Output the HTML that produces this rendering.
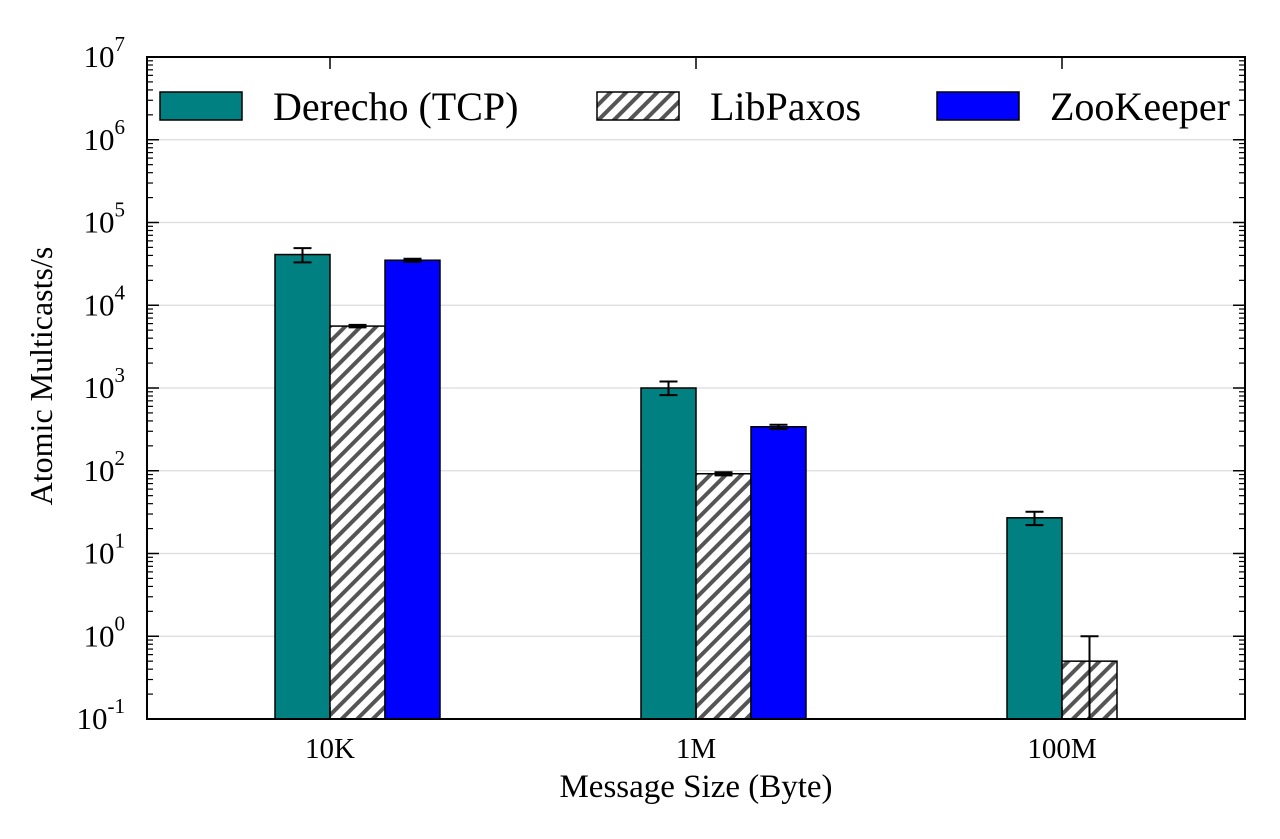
<!DOCTYPE html>
<html><head><meta charset="utf-8"><style>
body{margin:0;background:#fff;}
svg{display:block;font-family:"Liberation Serif",serif;}
</style></head><body>
<svg id="chart" width="1280" height="839" xmlns="http://www.w3.org/2000/svg">
<defs>
<pattern id="hatch" patternUnits="userSpaceOnUse" width="11" height="11" patternTransform="rotate(45)">
<rect width="11" height="11" fill="#fff"/>
<rect x="0" y="0" width="4" height="11" fill="#555"/>
</pattern>
</defs>
<g id="grid"></g>
<g id="bars"></g>
<g id="axes"></g>
</svg>
<script>
const categories = ["10K", "1M", "100M"];
const seriesNames = ["Derecho (TCP)", "LibPaxos", "ZooKeeper"];
const derecho = [41000, 1000, 27];
const derechoErrLo = [33000, 820, 22];
const derechoErrHi = [49000, 1200, 32];
const libpaxos = [5600, 92, 0.5];
const libpaxosErrLo = [5400, 88, 0.1];
const libpaxosErrHi = [5800, 96, 1.0];
const zookeeper = [35000, 340, null];
const zookeeperErrLo = [33500, 320, null];
const zookeeperErrHi = [36500, 360, null];
const yTickExps = [-1,0,1,2,3,4,5,6,7];

const NS="http://www.w3.org/2000/svg";
const L=147,R=1245,T=57,B=719;
const yMin=-1,yMax=7;
function y(v){return B-(Math.log10(v)-yMin)/(yMax-yMin)*(B-T);}
const groupW=(R-L)/categories.length;
function xc(i){return L+groupW*(i+0.5);}
const barW=55;
function mk(tag,attrs,parent){const e=document.createElementNS(NS,tag);for(const k in attrs)e.setAttribute(k,attrs[k]);parent.appendChild(e);return e;}
const grid=document.getElementById('grid'),bars=document.getElementById('bars'),axes=document.getElementById('axes');

yTickExps.forEach(ex=>{
  const yy=y(Math.pow(10,ex));
  if(ex>yMin&&ex<yMax){const g=mk('line',{x1:L,x2:R,y1:yy,y2:yy,stroke:'#dcdcdc','stroke-width':1.2},grid);
  
  }
  mk('line',{x1:L,x2:L+12,y1:yy,y2:yy,stroke:'#000','stroke-width':1.5},axes);
  mk('line',{x1:R,x2:R-12,y1:yy,y2:yy,stroke:'#000','stroke-width':1.5},axes);
  const t=mk('text',{x:L-22,y:yy+10,'text-anchor':'end','font-size':31},axes);
  
  
  t.textContent='10';
  const s=mk('tspan',{dy:-16,'font-size':21},t);s.textContent=String(ex);
  if(ex<yMax){for(let m=2;m<10;m++){const ym=y(m*Math.pow(10,ex));
    mk('line',{x1:L,x2:L+6,y1:ym,y2:ym,stroke:'#000','stroke-width':1.2},axes);
    mk('line',{x1:R,x2:R-6,y1:ym,y2:ym,stroke:'#000','stroke-width':1.2},axes);}}
});

const series=[[derecho,derechoErrLo,derechoErrHi,'#008080'],[libpaxos,libpaxosErrLo,libpaxosErrHi,'url(#hatch)'],[zookeeper,zookeeperErrLo,zookeeperErrHi,'#0000ff']];
categories.forEach((c,i)=>{
  series.forEach((s,j)=>{
    const v=s[0][i]; if(v==null)return;
    const x0=xc(i)-barW+j*barW;
    const r=mk('rect',{x:x0,y:y(v),width:barW,height:B-y(v),fill:s[3],stroke:'#000','stroke-width':1.5},bars);
    
    
    const cx=x0+barW/2,lo=y(s[1][i]),hi=y(s[2][i]);
    mk('line',{x1:cx,x2:cx,y1:Math.min(lo,B),y2:hi,stroke:'#000','stroke-width':2},bars);
    mk('line',{x1:cx-9,x2:cx+9,y1:hi,y2:hi,stroke:'#000','stroke-width':2},bars);
    if(lo<B)mk('line',{x1:cx-9,x2:cx+9,y1:lo,y2:lo,stroke:'#000','stroke-width':2},bars);
  });
  const xx=xc(i);
  mk('line',{x1:xx,x2:xx,y1:B,y2:B-12,stroke:'#000','stroke-width':1.5},axes);
  mk('line',{x1:xx,x2:xx,y1:T,y2:T+12,stroke:'#000','stroke-width':1.5},axes);
  const t=mk('text',{x:xx,y:B+39,'text-anchor':'middle','font-size':29},axes);
  
  
  t.textContent=c;
});
const fr=mk('rect',{x:L,y:T,width:R-L,height:B-T,fill:'none',stroke:'#000','stroke-width':2},axes);


const xt=mk('text',{x:(L+R)/2,y:797,'text-anchor':'middle','font-size':33},axes);


xt.textContent='Message Size (Byte)';
const yt=mk('text',{x:0,y:0,'text-anchor':'middle','font-size':32,transform:'translate(52,376) rotate(-90)'},axes);


yt.textContent='Atomic Multicasts/s';
const legX=[160,597,937],fills=['#008080','url(#hatch)','#0000ff'];
seriesNames.forEach((n,j)=>{
  const g=mk('g',{},axes);
  
  
  mk('rect',{x:legX[j],y:92,width:82,height:28,fill:fills[j],stroke:'#000','stroke-width':1.5},g);
  const t=mk('text',{x:legX[j]+113,y:120,'font-size':40},g);t.textContent=n;
});
</script>
</body></html>
